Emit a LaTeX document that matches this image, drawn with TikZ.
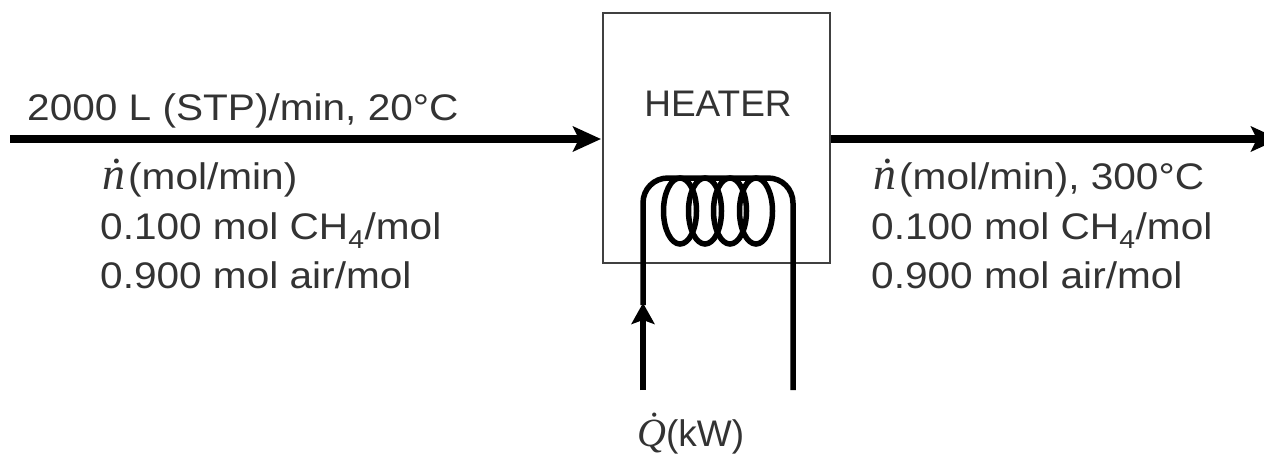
\documentclass[tikz,border=0pt]{standalone}
\usepackage{fontspec}
\setmainfont[FakeStretch=1.097]{Liberation Sans}
\newfontfamily\plainsans{Liberation Sans}
\newfontfamily\mathish[ItalicFont=Liberation Serif Italic]{Liberation Serif}
\usetikzlibrary{arrows.meta}
\tikzset{
  x=1pt,y=-1pt,
  lbl/.style={inner sep=0pt,anchor=base west,font=\fontsize{37}{37}\selectfont,text=black!80},
  stream/.style={line width=8.5pt,-{Stealth[length=28pt,width=25pt,inset=6pt]}},
  wire/.style={line width=5.5pt},
  coilline/.style={line width=5.5pt},
  unitbox/.style={draw=black!75,line width=2.5pt,inner sep=0pt,minimum width=227pt,minimum height=250pt,font=\plainsans\fontsize{37}{37}\selectfont,text=black!80}
}
\newcommand{\ndot}{{\mathish\itshape\fontsize{46}{46}\selectfont\.n}\hspace{3pt}}
\newcommand{\qdot}{{\mathish\itshape\fontsize{40}{40}\selectfont\.Q}}
\begin{document}
\begin{tikzpicture}
\useasboundingbox (0,0) rectangle (1264,455);
\node[unitbox] (heater) at (716.5,138) {\parbox[c][248pt][t]{225pt}{\centering\hspace*{3pt}\rule{0pt}{102pt}HEATER}};
\coordinate (inlet) at (10,139);
\coordinate (outlet) at (1279,139);
\coordinate (heaterW) at (601,139);
\coordinate (heaterE) at (831,139);
\coordinate (wireL) at (643,390);
\coordinate (wireR) at (793,390);
\coordinate (coilL) at (643,203);
\coordinate (coilR) at (793,203);
\draw[stream] (inlet) -- (heaterW);
\draw[stream] (heaterE) -- (outlet);
\foreach \cx in {680,705,730,756}
  \draw[coilline] (\cx,211) ellipse [x radius=16.5,y radius=33];
\draw[wire,-{Stealth[length=21pt,width=23pt,inset=4pt]}] (wireL) -- (643,303);
\draw[wire] (643,305) -- (coilL) .. controls (643,189) and (654,178) .. (668,178) -- (768,178) .. controls (782,178) and (793,189) .. (coilR) -- (wireR);
\node[lbl] (feed) at (27,120) {2000 L (STP)/min, 20°C};
\node[lbl] (n1) at (102,189) {\ndot(mol/min)};
\node[lbl] (c1) at (100,239) {0.100 mol CH\textsubscript{4}/mol};
\node[lbl] (a1) at (100,288) {0.900 mol air/mol};
\node[lbl] (n2) at (873,189) {\ndot(mol/min), 300°C};
\node[lbl] (c2) at (871,239) {0.100 mol CH\textsubscript{4}/mol};
\node[lbl] (a2) at (871,288) {0.900 mol air/mol};
\node[lbl] (q) at (637,446) {\qdot{\plainsans(kW)}};
\end{tikzpicture}
\end{document}
